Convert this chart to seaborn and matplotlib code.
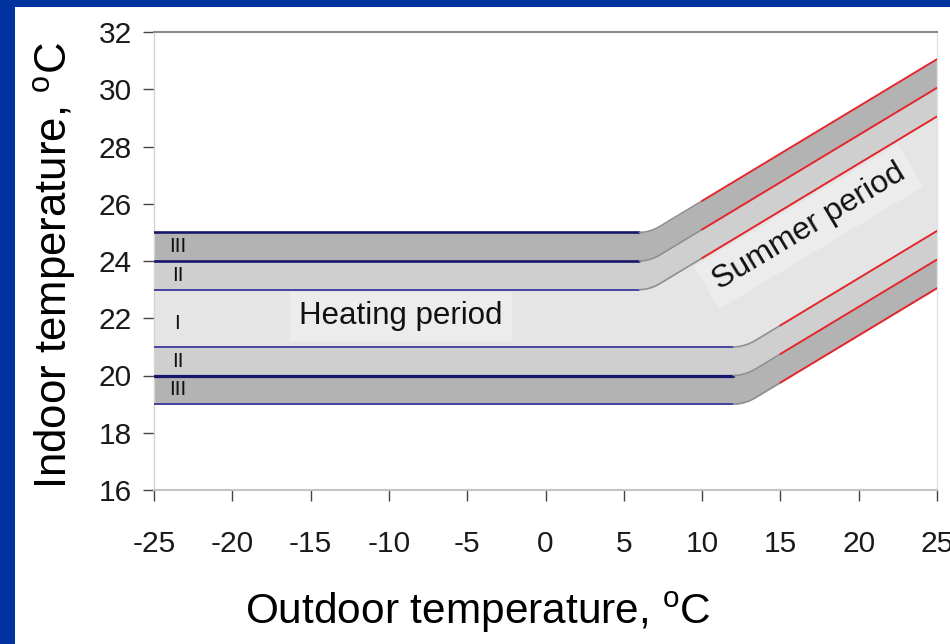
import numpy as np
import pandas as pd
import matplotlib
matplotlib.use("Agg")
import matplotlib.pyplot as plt
from matplotlib.patches import Rectangle
import seaborn as sns

# ---------------- data ----------------
categories = ["I", "II", "III"]
# heating period (flat) limits of indoor temperature, degC
heat_upper = [23.0, 24.0, 25.0]
heat_lower = [21.0, 20.0, 19.0]
# outdoor temperature where the flat heating limits end
upper_flat_end = 6.0
lower_flat_end = 12.0
# outdoor temperature where the summer (red) limits start / end
upper_red_start = 10.0
lower_red_start = 15.0
x_end = 25.0
summer_upper_start = [24.1, 25.1, 26.1]
summer_upper_end = [29.05, 30.05, 31.05]
summer_lower_start = [21.75, 20.75, 19.75]
summer_lower_end = [25.05, 24.05, 23.05]
x_ticks = [-25, -20, -15, -10, -5, 0, 5, 10, 15, 20, 25]
y_ticks = [16, 18, 20, 22, 24, 26, 28, 30, 32]
x_start = -25.0

# ---------------- style ----------------
sns.set_style("white")
plt.rcParams["font.family"] = ["Liberation Sans", "DejaVu Sans"]
plt.rcParams["mathtext.fontset"] = "custom"
plt.rcParams["mathtext.rm"] = "Liberation Sans"

BLUE_BG = "#0033a0"
DARK = "#b3b3b3"
MID = "#cfcfcf"
LIGHT = "#e5e5e5"
NAVY = "#16166e"
BLUE = "#3a3aa0"
GRAY_EDGE = "#8f8f8f"
RED = "#e3262b"


def boundary(flat, x_flat_end, x_red, y_red, y_end):
    """Return segments (flat, transition, red) of one limit line."""
    slope = (y_end - y_red) / (x_end - x_red)
    xc = x_red - (y_red - flat) / slope
    xe = 2 * xc - x_flat_end
    ye = y_red + slope * (xe - x_red)
    t = np.linspace(0, 1, 40)
    bx = (1 - t) ** 2 * x_flat_end + 2 * (1 - t) * t * xc + t ** 2 * xe
    by = (1 - t) ** 2 * flat + 2 * (1 - t) * t * flat + t ** 2 * ye
    flat_seg = (np.array([x_start, x_flat_end]), np.array([flat, flat]))
    trans_seg = (np.concatenate([bx, [x_red]]), np.concatenate([by, [y_red]]))
    red_seg = (np.array([x_red, x_end]), np.array([y_red, y_end]))
    return flat_seg, trans_seg, red_seg


uppers = [boundary(heat_upper[i], upper_flat_end, upper_red_start,
                   summer_upper_start[i], summer_upper_end[i]) for i in range(3)]
lowers = [boundary(heat_lower[i], lower_flat_end, lower_red_start,
                   summer_lower_start[i], summer_lower_end[i]) for i in range(3)]

xs = np.linspace(x_start, x_end, 2001)


def on_grid(segs):
    x = np.concatenate([s[0] for s in segs])
    y = np.concatenate([s[1] for s in segs])
    return np.interp(xs, x, y)


U = [on_grid(s) for s in uppers]
L = [on_grid(s) for s in lowers]

# ---------------- figure ----------------
fig = plt.figure(figsize=(9.5, 6.44), dpi=100)
fig.patch.set_facecolor(BLUE_BG)
fig.add_artist(Rectangle((15 / 950, 0), 1, (644 - 7) / 644, transform=fig.transFigure,
                         facecolor="white", edgecolor="none", zorder=-1))
ax = fig.add_axes([154 / 950, 1 - 490 / 644, (937 - 154) / 950, (490 - 32) / 644])
ax.set_facecolor("white")

# bands
ax.fill_between(xs, U[1], U[2], color=DARK, lw=0, zorder=1)
ax.fill_between(xs, U[0], U[1], color=MID, lw=0, zorder=1)
ax.fill_between(xs, L[0], U[0], color=LIGHT, lw=0, zorder=1)
ax.fill_between(xs, L[1], L[0], color=MID, lw=0, zorder=1)
ax.fill_between(xs, L[2], L[1], color=DARK, lw=0, zorder=1)

# lines
flat_style = {0: (BLUE, 1.3), 1: (NAVY, 1.9), 2: (NAVY, 1.9)}
flat_style_low = {0: (BLUE, 1.3), 1: (NAVY, 2.3), 2: (BLUE, 1.3)}
for i in range(3):
    for segs, style in ((uppers[i], flat_style[i]), (lowers[i], flat_style_low[i])):
        (fx, fy), (tx, ty), (rx, ry) = segs
        sns.lineplot(x=fx, y=fy, ax=ax, color=style[0], linewidth=style[1],
                     estimator=None, sort=False, zorder=3)
        sns.lineplot(x=tx, y=ty, ax=ax, color=GRAY_EDGE, linewidth=1.2,
                     estimator=None, sort=False, zorder=3)
        sns.lineplot(x=rx, y=ry, ax=ax, color=RED, linewidth=1.4,
                     estimator=None, sort=False, zorder=3)

# category labels
label_x = -23.5
ax.text(label_x, (heat_lower[0] + heat_upper[0]) / 2 - 0.2, categories[0], ha="center",
        va="center", fontsize=15, color="#111111", zorder=4)
for i in (1, 2):
    ax.text(label_x, (heat_upper[i - 1] + heat_upper[i]) / 2, categories[i], ha="center",
            va="center", fontsize=15, color="#111111", zorder=4)
    ax.text(label_x, (heat_lower[i - 1] + heat_lower[i]) / 2, categories[i], ha="center",
            va="center", fontsize=15, color="#111111", zorder=4)

ax.text(-9.25, 22.07, "Heating period", ha="center", va="center", fontsize=22.5,
        color="#111111", zorder=5,
        bbox=dict(boxstyle="square,pad=0.3", facecolor="#ececec", edgecolor="none"))
ax.text(16.8, 25.2, "Summer period", ha="center", va="center", fontsize=23,
        rotation=31, rotation_mode="anchor", color="#111111", zorder=5,
        bbox=dict(boxstyle="square,pad=0.3", facecolor="#ececec", edgecolor="none"))

# axes
ax.set_xlim(x_start, x_end)
ax.set_ylim(16, 32)
ax.set_xticks(x_ticks)
ax.set_yticks(y_ticks)
ax.set_xticklabels([str(v) for v in x_ticks])
ax.set_yticklabels([str(v) for v in y_ticks])
ax.tick_params(axis="both", which="major", labelsize=21.5, colors="#444444",
               labelcolor="#1a1a1a", length=8, width=1, direction="out")
ax.tick_params(axis="y", pad=8, left=True)
ax.tick_params(axis="x", pad=21, bottom=True)

for side, col, lw in (("left", "#d4d4d4", 1.0), ("bottom", "#c4c4c4", 1.5),
                      ("top", "#8a8a8a", 1.5), ("right", "#e2e2e2", 1.0)):
    ax.spines[side].set_visible(True)
    ax.spines[side].set_color(col)
    ax.spines[side].set_linewidth(lw)

ax.set_xlabel(r"Outdoor temperature, $^{\mathrm{o}}$C", fontsize=30.5, color="#000000")
ax.set_ylabel(r"Indoor temperature, $^{\mathrm{o}}$C", fontsize=31.5, color="#000000")
ax.xaxis.set_label_coords(0.414, -0.218)
ax.yaxis.set_label_coords(-0.097, 0.49)

fig.savefig("out.png", dpi=100, facecolor=fig.get_facecolor())
